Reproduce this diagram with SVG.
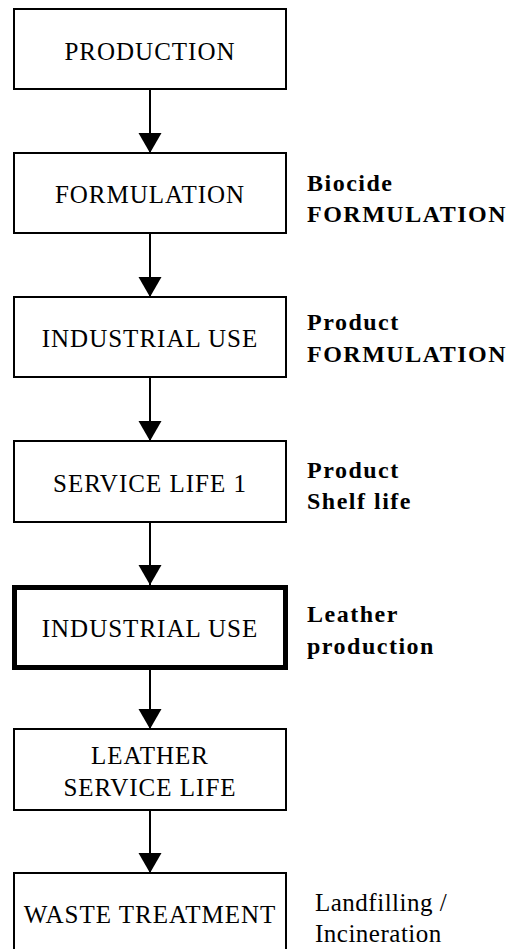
<svg xmlns="http://www.w3.org/2000/svg" width="514" height="949" viewBox="0 0 514 949">
<style>
.box{fill:#fff;stroke:#000;stroke-width:2}
.thick{fill:#fff;stroke:#000;stroke-width:5}
.c{stroke:#000;stroke-width:2;fill:none;marker-end:url(#ah)}
</style>
<defs>
<marker id="ah" markerUnits="userSpaceOnUse" markerWidth="22" markerHeight="24" refX="20" refY="12" orient="auto">
<path d="M0,0.5 L20,12 L0,23.5 z" fill="#000"/>
</marker>
</defs>
<g id="connectors">
<line class="c" x1="150" y1="89" x2="150" y2="153"/>
<line class="c" x1="150" y1="233" x2="150" y2="297"/>
<line class="c" x1="150" y1="377" x2="150" y2="441"/>
<line class="c" x1="150" y1="522" x2="150" y2="585"/>
<line class="c" x1="150" y1="670" x2="150" y2="729"/>
<line class="c" x1="150" y1="810" x2="150" y2="873"/>
</g>
<g font-family="Liberation Serif, serif" font-size="25" fill="#000" text-anchor="middle" letter-spacing="1">
<g id="production">
<rect class="box" x="14" y="9" width="272" height="80"/>
<text x="150" y="59.5">PRODUCTION</text>
</g>
<g id="formulation">
<rect class="box" x="14" y="153" width="272" height="80"/>
<text x="150" y="203">FORMULATION</text>
</g>
<g id="industrial-use-1">
<rect class="box" x="14" y="297" width="272" height="80"/>
<text x="150" y="347">INDUSTRIAL USE</text>
</g>
<g id="service-life-1">
<rect class="box" x="14" y="441" width="272" height="81"/>
<text x="150" y="492">SERVICE LIFE 1</text>
</g>
<g id="industrial-use-2">
<rect class="thick" x="14.5" y="587.5" width="271" height="80"/>
<text x="150" y="637">INDUSTRIAL USE</text>
</g>
<g id="leather-service-life">
<rect class="box" x="14" y="729" width="272" height="81"/>
<text x="150" y="764">LEATHER</text>
<text x="150" y="796">SERVICE LIFE</text>
</g>
<g id="waste-treatment">
<rect class="box" x="14" y="873" width="272" height="90"/>
<text x="150" y="923">WASTE TREATMENT</text>
</g>
</g>
<g id="labels" font-family="Liberation Serif, serif" fill="#000">
<g font-size="24" font-weight="bold" letter-spacing="1.5">
<text x="307" y="190.5">Biocide</text>
<text x="307" y="221.5">FORMULATION</text>
<text x="307" y="330">Product</text>
<text x="307" y="361.5">FORMULATION</text>
<text x="307" y="477.5">Product</text>
<text x="307" y="509">Shelf life</text>
<text x="307" y="621.5">Leather</text>
<text x="307" y="654">production</text>
</g>
<g font-size="25" letter-spacing="0.5">
<text x="315" y="910.5">Landfilling /</text>
<text x="315" y="941.5">Incineration</text>
</g>
</g>
</svg>
